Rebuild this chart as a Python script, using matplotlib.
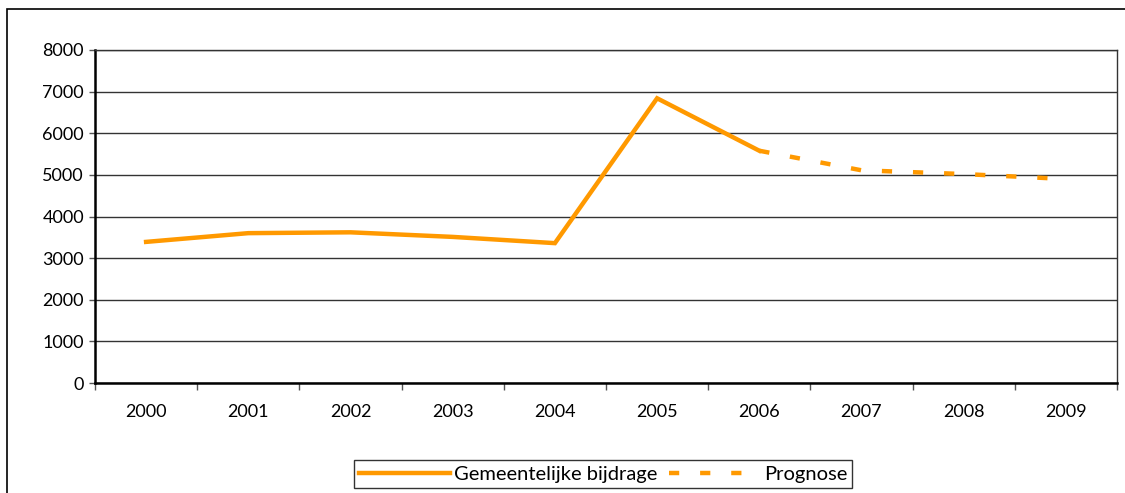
import matplotlib.pyplot as plt
from matplotlib.patches import Rectangle

plt.rcParams.update({
    "font.family": ["Lato", "DejaVu Sans"],
    "font.size": 13,
})

# --- data ---
years = ["2000", "2001", "2002", "2003", "2004", "2005", "2006", "2007", "2008", "2009"]
bijdrage = [3390, 3600, 3620, 3510, 3360, 6840, 5580]
prognose = [5580, 5110, 5020, 4900]

orange = "#FF9900"

fig = plt.figure(figsize=(11.25, 4.93), dpi=100)
ax = fig.add_axes([95 / 1125, 1 - 383 / 493, (1117 - 95) / 1125, (383 - 50) / 493])

x_b = list(range(len(bijdrage)))
x_p = list(range(len(bijdrage) - 1, len(years)))

ax.plot(x_b, bijdrage, color=orange, lw=3.2, solid_joinstyle="miter", label="Gemeentelijke bijdrage")
ax.plot(x_p, prognose, color=orange, lw=3.2, dashes=(2.3, 4.7), dash_capstyle="butt",
        label="Prognose")

ax.set_xlim(-0.5, len(years) - 0.5)
ax.set_ylim(0, 8000)
ax.set_yticks(range(0, 8001, 1000))
ax.set_xticks(range(len(years)))
ax.set_xticklabels(years)
ax.set_xticks([i + 0.5 for i in range(-1, len(years))], minor=True)
ax.tick_params(axis="x", which="major", length=0, pad=15, labelsize=13)
ax.tick_params(axis="x", which="minor", length=5, width=1, color="#555555")
ax.tick_params(axis="y", length=4, width=1, color="#555555", labelsize=13, pad=4)
ax.yaxis.grid(True, color="#333333", lw=1)
ax.set_axisbelow(True)

for s in ["top", "right"]:
    ax.spines[s].set_color("#333333")
    ax.spines[s].set_linewidth(1)
for s in ["left", "bottom"]:
    ax.spines[s].set_color("black")
    ax.spines[s].set_linewidth(1.8)

leg = fig.legend(loc="center", bbox_to_anchor=(603 / 1125, 1 - 474 / 493), ncol=2,
                 fontsize=14.5, frameon=True, fancybox=False, handlelength=4.5,
                 handletextpad=0.2, columnspacing=0.6, borderpad=0.25)
leg.get_frame().set_edgecolor("black")
leg.get_frame().set_linewidth(1)

# outer frame around the chart
fig.patches.append(Rectangle((7 / 1125, -0.05), 1.2, 1 - 9 / 493 + 0.05,
                             transform=fig.transFigure, fill=False,
                             edgecolor="black", lw=1.2))

fig.savefig("out.png", dpi=100)
